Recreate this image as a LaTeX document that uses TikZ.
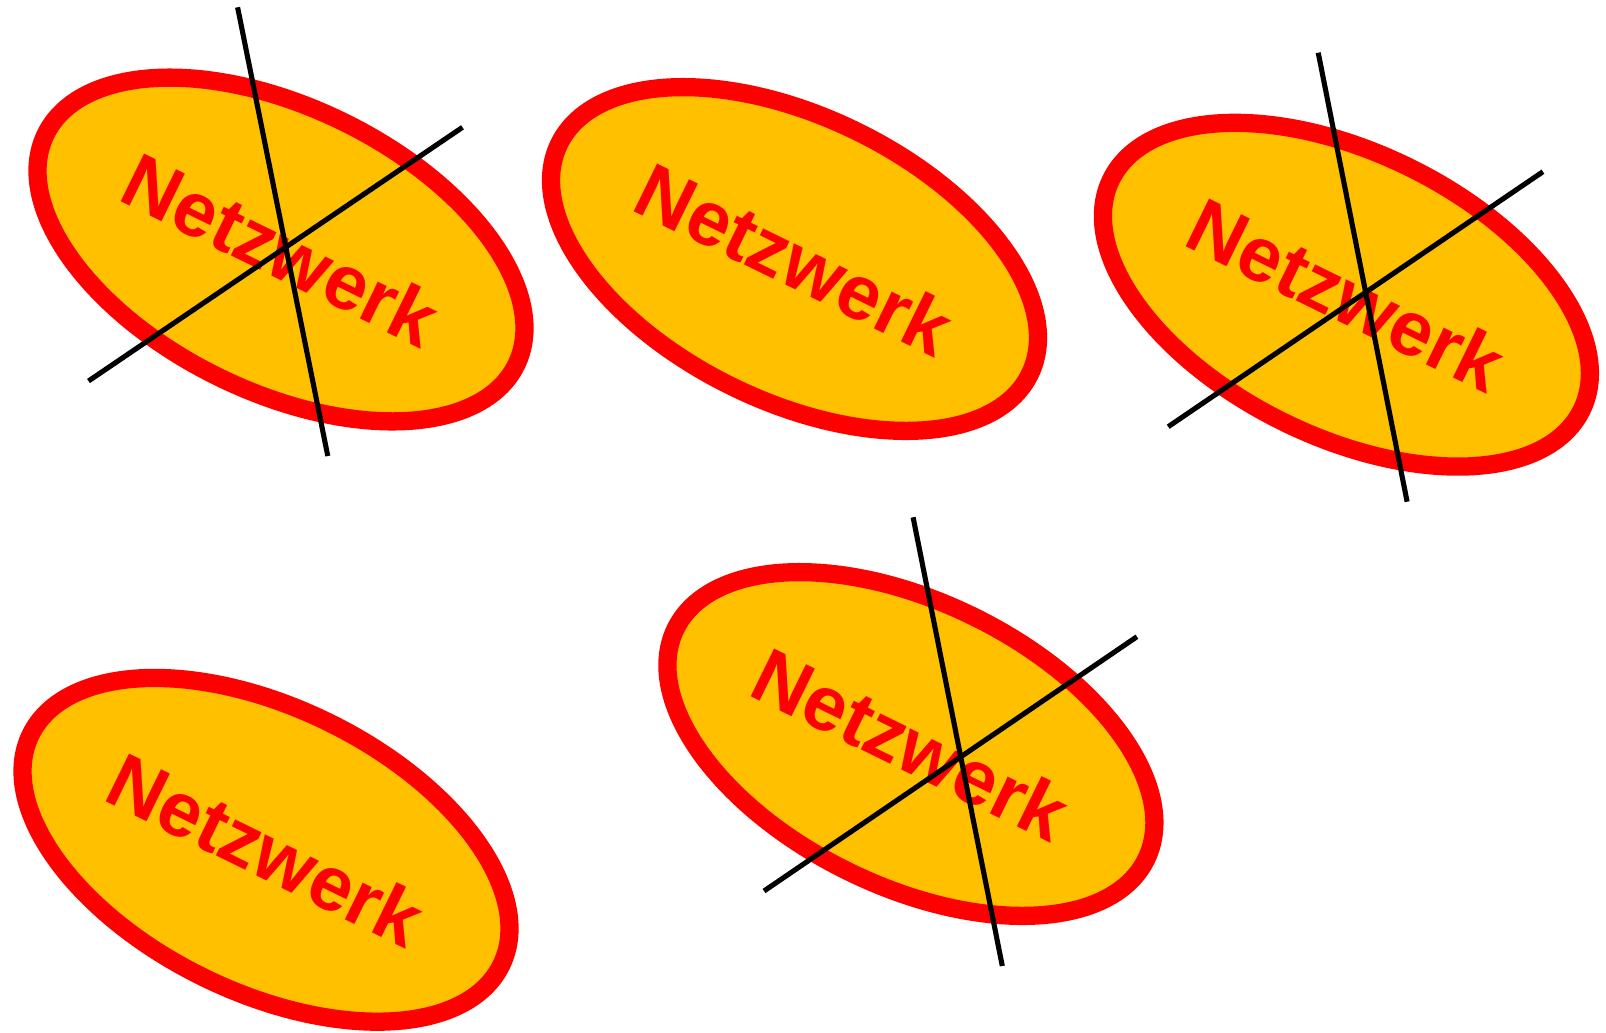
\documentclass[tikz,border=0pt]{standalone}
\usepackage{fontspec}
\setsansfont{Liberation Sans}
\usepackage{tikz}
\usetikzlibrary{shapes.geometric,calc}
\definecolor{netzgold}{HTML}{FFC000}

\begin{document}
\begin{tikzpicture}[netz/.style={ellipse, draw=red, line width=5.2pt, fill=netzgold, text=red,
    minimum width=5.24cm, minimum height=2.84cm, inner sep=0pt, rotate=-26.1,
    font=\sffamily\bfseries\fontsize{22}{26}\selectfont},
  strike/.style={black, line width=1.45pt}]
\useasboundingbox (0,0) rectangle (16.06,10.32);

\node (1) [netz] at (2.81,7.825) {Netzwerk};
\node (2) [netz] at (7.945,7.73) {Netzwerk};
\node (3) [netz] at (13.464,7.373) {Netzwerk};
\node (4) [netz] at (2.66,1.822) {Netzwerk};
\node (5) [netz] at (9.109,2.88) {Netzwerk};

% crossed out
\draw[strike] ($(1)+(-0.434,2.422)$) -- ($(1)+(0.468,-2.065)$);
\draw[strike] ($(1)+(-1.925,-1.315)$) -- ($(1)+(1.815,1.222)$);
\draw[strike] ($(3)+(-0.282,2.42)$) -- ($(3)+(0.607,-2.07)$);
\draw[strike] ($(3)+(-1.782,-1.32)$) -- ($(3)+(1.965,1.23)$);
\draw[strike] ($(5)+(0.022,2.267)$) -- ($(5)+(0.914,-2.22)$);
\draw[strike] ($(5)+(-1.469,-1.47)$) -- ($(5)+(2.26,1.073)$);

\end{tikzpicture}
\end{document}
